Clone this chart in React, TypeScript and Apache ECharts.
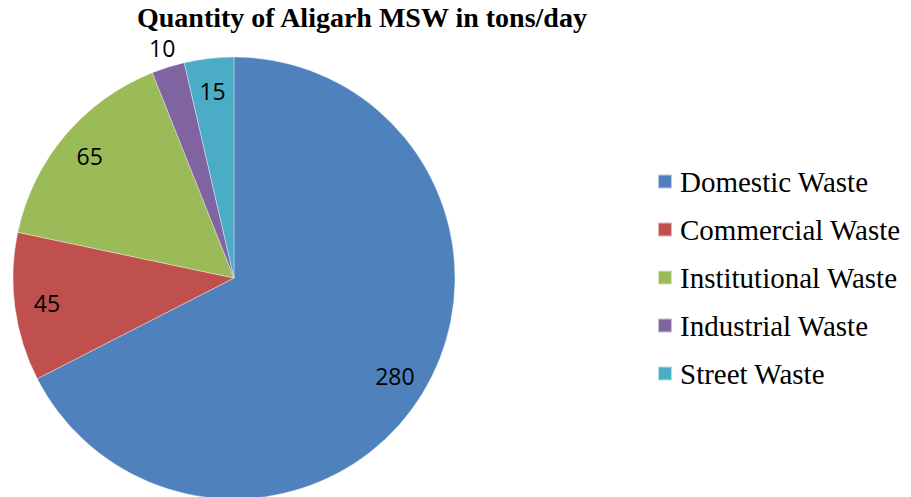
import React, { useEffect, useRef } from "react";
import * as echarts from "echarts";

const titleText = "Quantity of Aligarh MSW in tons/day";
const categories = [
  "Domestic Waste",
  "Commercial Waste",
  "Institutional Waste",
  "Industrial Waste",
  "Street Waste",
];
const values = [280, 45, 65, 10, 15];
const colors = ["#4F81BD", "#C0504D", "#9BBB59", "#8064A2", "#4BACC6"];
// labels drawn outside the pie (small slice)
const outsideLabel = [false, false, false, true, false];

export default function App() {
  const ref = useRef<HTMLDivElement>(null);
  useEffect(() => {
    if (!ref.current) return;
    const chart = echarts.init(ref.current, undefined, { renderer: "svg" });
    const center = [234, 278];
    const R = 221;
    const labelFont = {
      fontFamily: "Open Sans",
      fontSize: 23,
      lineHeight: 20,
      color: "#000",
    };
    chart.setOption({
      animation: false,
      title: {
        text: titleText,
        left: 137,
        top: 4,
        padding: 0,
        textStyle: {
          fontFamily: "Liberation Serif",
          fontWeight: "bold",
          fontSize: 28,
          lineHeight: 26,
          color: "#000",
        },
      },
      legend: {
        orient: "vertical",
        left: 657,
        top: 167,
        padding: 0,
        itemWidth: 14,
        itemHeight: 14,
        itemGap: 19,
        icon: "rect",
        data: categories,
        selectedMode: false,
        textStyle: {
          fontFamily: "Liberation Serif",
          fontSize: 29,
          color: "#000",
          padding: [0, 0, 0, 3],
        },
      },
      series: [
        {
          type: "pie",
          center,
          radius: [0, R],
          startAngle: 90,
          clockwise: true,
          silent: true,
          avoidLabelOverlap: false,
          label: { show: false },
          labelLine: { show: false },
          itemStyle: { borderColor: "rgba(255,255,255,0.6)", borderWidth: 0.6 },
          data: categories.map((name, i) => ({
            name,
            value: values[i],
            itemStyle: { color: colors[i] },
          })),
        },
        {
          type: "pie",
          center,
          radius: [0, R * 0.84 * 2],
          startAngle: 90,
          clockwise: true,
          silent: true,
          avoidLabelOverlap: false,
          labelLine: { show: false },
          itemStyle: { color: "rgba(0,0,0,0)" },
          data: categories.map((name, i) => ({
            name,
            value: values[i],
            label: {
              show: !outsideLabel[i],
              position: "inside",
              formatter: "{c}",
              ...labelFont,
            },
          })),
        },
        {
          type: "pie",
          center,
          radius: [0, R * 1.075 * 2],
          startAngle: 90,
          clockwise: true,
          silent: true,
          avoidLabelOverlap: false,
          labelLine: { show: false },
          itemStyle: { color: "rgba(0,0,0,0)" },
          data: categories.map((name, i) => ({
            name,
            value: values[i],
            label: {
              show: outsideLabel[i],
              position: "inside",
              formatter: "{c}",
              ...labelFont,
            },
          })),
        },
      ],
    });
    return () => chart.dispose();
  }, []);
  return (
    <div
      ref={ref}
      style={{ position: "fixed", left: 0, top: 0, width: 911, height: 497, background: "#fff" }}
    />
  );
}
